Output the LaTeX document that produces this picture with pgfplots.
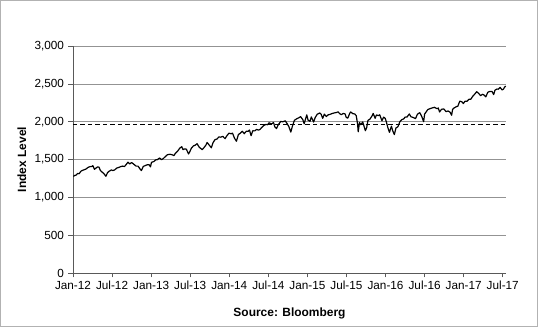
\documentclass[border=0pt]{standalone}
\usepackage{pgfplots}
\pgfplotsset{compat=1.18}
\usepackage{fontspec}
\setmainfont{Liberation Sans}
\pgfplotstableread{
m v
0.05 1277
0.3 1290
0.5 1295
0.7 1315
0.95 1312
1.2 1344
1.5 1358
1.8 1367
2.0 1374
2.3 1395
2.6 1405
2.9 1408
3.05 1419
3.3 1370
3.5 1385
3.8 1403
4.0 1398
4.2 1355
4.5 1330
4.7 1318
5.05 1278
5.3 1325
5.5 1342
5.9 1362
6.1 1354
6.4 1362
6.7 1386
7.0 1394
7.3 1405
7.6 1413
7.9 1407
8.2 1437
8.45 1465
8.7 1441
9.0 1460
9.4 1433
9.7 1412
10.0 1412
10.3 1374
10.5 1353
10.8 1409
11.0 1416
11.4 1430
11.7 1430
11.9 1402
12.05 1462
12.4 1472
12.7 1495
12.95 1498
13.3 1520
13.6 1497
13.9 1515
14.2 1540
14.5 1563
14.9 1569
15.2 1563
15.5 1552
15.7 1578
16.1 1614
16.4 1650
16.7 1669
16.9 1630
17.1 1640
17.4 1637
17.75 1573
17.95 1606
18.2 1652
18.5 1680
18.8 1690
19.05 1709
19.4 1661
19.85 1630
20.1 1655
20.4 1688
20.6 1725
20.9 1692
21.25 1655
21.5 1721
21.8 1762
22.1 1770
22.4 1798
22.7 1795
23.0 1806
23.35 1775
23.6 1810
23.95 1848
24.3 1840
24.5 1848
24.8 1782
25.1 1741
25.4 1830
25.7 1847
26.0 1873
26.3 1841
26.6 1872
26.9 1872
27.1 1890
27.35 1815
27.6 1879
27.9 1878
28.2 1897
28.5 1888
28.75 1900
29.0 1924
29.3 1950
29.6 1962
29.9 1960
30.1 1985
30.5 1970
30.8 1988
31.0 1930
31.25 1909
31.5 1955
31.9 2003
32.2 1998
32.6 2011
32.9 1972
33.15 1935
33.45 1862
33.7 1941
34.0 2018
34.4 2040
34.7 2052
34.95 2067
35.3 2026
35.5 1972
35.9 2090
36.1 2020
36.4 2005
36.6 2063
36.95 1995
37.2 2055
37.5 2097
37.9 2115
38.1 2099
38.35 2044
38.6 2100
38.9 2068
39.2 2091
39.5 2097
39.8 2108
40.2 2117
40.5 2122
40.7 2130
40.95 2107
41.2 2092
41.5 2108
41.8 2102
41.95 2057
42.2 2046
42.5 2110
42.65 2128
43.0 2104
43.25 2103
43.5 2079
43.7 1971
43.8 1867
44.0 1988
44.2 1960
44.5 1995
44.7 1938
44.9 1881
45.1 1920
45.3 2017
45.6 2033
45.95 2079
46.1 2109
46.4 2045
46.6 2089
46.9 2080
47.1 2091
47.45 2012
47.7 2060
47.95 2044
48.15 1990
48.35 1922
48.6 1859
48.9 1940
49.1 1880
49.35 1829
49.6 1917
49.9 1933
50.2 1999
50.5 2027
50.8 2037
51.0 2060
51.3 2061
51.65 2102
51.9 2065
52.2 2057
52.6 2040
52.9 2099
53.25 2119
53.55 2071
53.85 2000
54.0 2100
54.3 2137
54.5 2161
54.9 2174
55.2 2182
55.5 2190
55.9 2171
56.1 2180
56.3 2128
56.6 2164
56.95 2168
57.3 2132
57.6 2141
57.9 2126
58.15 2085
58.3 2163
58.5 2180
58.9 2199
59.1 2204
59.4 2271
59.7 2264
59.95 2239
60.2 2270
60.5 2268
60.8 2295
61.1 2297
61.4 2337
61.7 2364
62.0 2396
62.3 2373
62.6 2344
62.9 2362
63.1 2353
63.4 2328
63.7 2388
64.0 2399
64.35 2400
64.6 2357
64.8 2415
65.1 2431
65.3 2429
65.6 2453
65.9 2419
66.1 2429
66.3 2459
66.45 2470
}\spx
\begin{document}
\begin{tikzpicture}
\begin{axis}[
  name=ax,
  scale only axis,
  width=433bp, height=227bp,
  xmin=0, xmax=66.5, ymin=0, ymax=3000,
  axis x line*=bottom, axis y line*=left,
  axis line style={gray!70!black, line width=0.6pt},
  xtick={0,6,...,66},
  xticklabels={Jan-12,Jul-12,Jan-13,Jul-13,Jan-14,Jul-14,Jan-15,Jul-15,Jan-16,Jul-16,Jan-17,Jul-17},
  ytick={0,500,...,3000},
  ymajorgrids,
  grid style={gray!85, line width=0.6pt},
  tick align=outside,
  major tick length=4.5bp,
  tick style={gray!70!black, line width=0.6pt},
  yticklabel style={/pgf/number format/1000 sep={,}, xshift=-1bp},
  /pgf/number format/assume math mode=true,
  ticklabel style={font=\fontsize{11.8}{13}\selectfont},
  xticklabel style={yshift=0bp},
  ylabel={\textbf{Index Level}},
  ylabel style={at={(axis description cs:-0.118,0.5)}, anchor=center, font=\fontsize{12}{13}\selectfont},
  xlabel={\textbf{Source: Bloomberg}},
  xlabel style={at={(axis description cs:0.5,0)}, anchor=center, yshift=-40bp, font=\fontsize{12}{13}\selectfont},
  clip=false,
]
\addplot[black, line width=1.2pt, line join=round] table[x=m, y=v] {\spx};
\addplot[black, line width=0.8pt, dash pattern=on 4.5bp off 3bp] coordinates {(0,1962) (66.5,1962)};
\end{axis}
\draw[gray!60, line width=0.8pt] ([shift={(-72.6bp,-53.6bp)}]ax.south west) rectangle ([shift={(31.6bp,45.6bp)}]ax.north east);
\end{tikzpicture}
\end{document}
